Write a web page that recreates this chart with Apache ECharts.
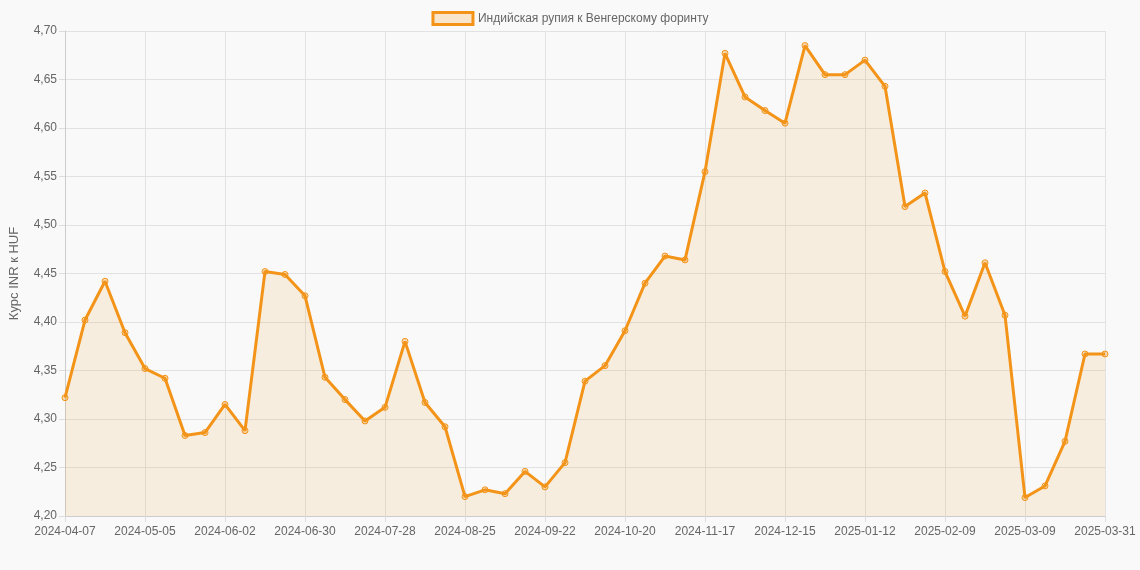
<!DOCTYPE html>
<html>
<head>
<meta charset="utf-8">
<script src="https://cdn.jsdelivr.net/npm/echarts@6/dist/echarts.min.js"></script>
<style>
  html, body { margin: 0; padding: 0; background: #f9f9f9; }
  #chart { width: 1140px; height: 570px; }
</style>
</head>
<body>
<div id="chart"></div>
<script>
// даты (недели)
let dates = [
  "2024-04-07", "2024-04-14", "2024-04-21", "2024-04-28",
  "2024-05-05", "2024-05-12", "2024-05-19", "2024-05-26",
  "2024-06-02", "2024-06-09", "2024-06-16", "2024-06-23", "2024-06-30",
  "2024-07-07", "2024-07-14", "2024-07-21", "2024-07-28",
  "2024-08-04", "2024-08-11", "2024-08-18", "2024-08-25",
  "2024-09-01", "2024-09-08", "2024-09-15", "2024-09-22", "2024-09-29",
  "2024-10-06", "2024-10-13", "2024-10-20", "2024-10-27",
  "2024-11-03", "2024-11-10", "2024-11-17", "2024-11-24",
  "2024-12-01", "2024-12-08", "2024-12-15", "2024-12-22", "2024-12-29",
  "2025-01-05", "2025-01-12", "2025-01-19", "2025-01-26",
  "2025-02-02", "2025-02-09", "2025-02-16", "2025-02-23",
  "2025-03-02", "2025-03-09", "2025-03-16", "2025-03-23", "2025-03-30", "2025-03-31"
];
// курс INR к HUF
let rates = [
  4.322, 4.402, 4.442, 4.389, 4.352, 4.342, 4.283, 4.286, 4.315, 4.288,
  4.452, 4.449, 4.427, 4.343, 4.320, 4.298, 4.312, 4.380, 4.317, 4.292,
  4.220, 4.227, 4.223, 4.246, 4.230, 4.255, 4.339, 4.355, 4.391, 4.440,
  4.468, 4.464, 4.555, 4.677, 4.632, 4.618, 4.605, 4.685, 4.655, 4.655,
  4.670, 4.643, 4.519, 4.533, 4.452, 4.406, 4.461, 4.407, 4.219, 4.231,
  4.277, 4.367, 4.367
];
let seriesName = "Индийская рупия к Венгерскому форинту";

let myChart = echarts.init(document.getElementById("chart"));

var option = {
  backgroundColor: "#f9f9f9",
  textStyle: { fontFamily: "Liberation Sans, Arial, sans-serif" },
  legend: {
    top: 6,
    itemWidth: 40,
    itemHeight: 12,
    textStyle: { color: "#666", fontSize: 12 },
    data: [{
      name: seriesName,
      icon: "rect",
      itemStyle: { color: "rgba(243,148,25,0.2)", borderColor: "#f39419", borderWidth: 3 }
    }]
  },
  grid: { left: 57, right: 35, top: 31, bottom: 54 },
  xAxis: {
    type: "category",
    boundaryGap: false,
    data: dates,
    axisLine: { lineStyle: { color: "#ccc" } },
    axisTick: { show: true, interval: 3, length: 6, lineStyle: { color: "#ddd" } },
    axisLabel: { interval: 3, color: "#666", fontSize: 12, margin: 10, showMaxLabel: true },
    splitLine: { show: true, interval: 3, lineStyle: { color: "#e2e2e2" } }
  },
  yAxis: {
    type: "value",
    min: 4.2,
    max: 4.7,
    interval: 0.05,
    name: "Курс INR к HUF",
    nameLocation: "middle",
    nameGap: 44,
    nameTextStyle: { color: "#666", fontSize: 13 },
    axisLine: { show: true, lineStyle: { color: "#ccc" } },
    axisTick: { show: true, length: 6, lineStyle: { color: "#ddd" } },
    axisLabel: {
      color: "#666",
      fontSize: 12,
      formatter: function (v) { return v.toFixed(2).replace(".", ","); }
    },
    splitLine: { lineStyle: { color: "#e2e2e2" } }
  },
  series: [{
    name: seriesName,
    type: "line",
    data: rates,
    symbol: "circle",
    symbolSize: 6,
    showAllSymbol: true,
    lineStyle: { color: "#f39419", width: 3 },
    itemStyle: { color: "rgba(243,148,25,0.3)", borderColor: "#f39419", borderWidth: 1 },
    areaStyle: { color: "rgba(243,160,40,0.18)" }
  }]
};

myChart.setOption(option);
</script>
</body>
</html>
